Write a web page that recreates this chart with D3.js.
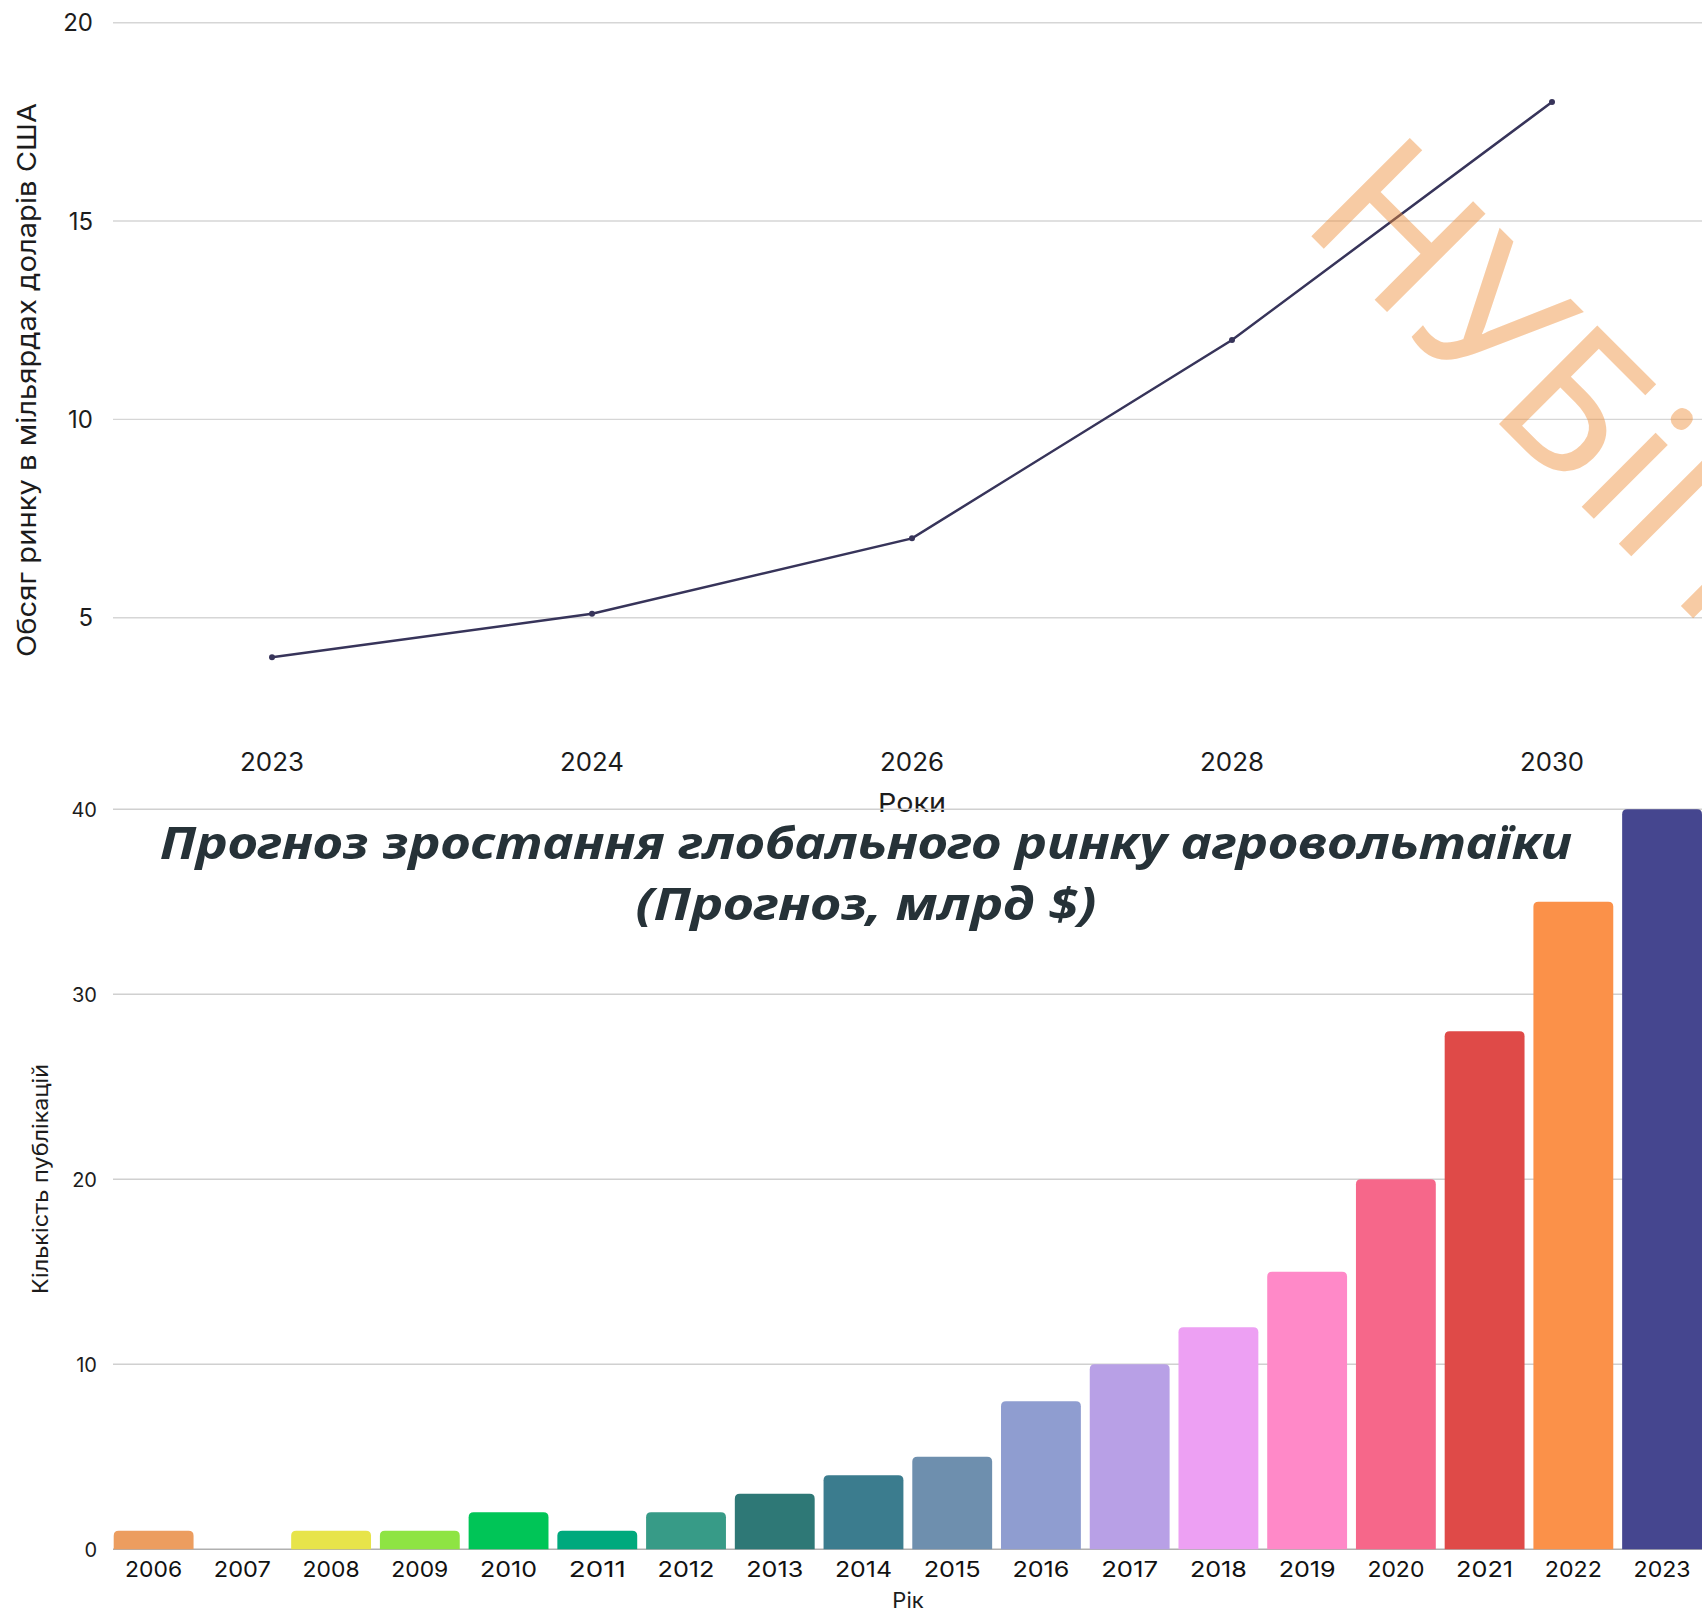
<!DOCTYPE html>
<html>
<head>
<meta charset="utf-8">
<script src="https://cdn.jsdelivr.net/npm/d3@7"></script>
<style>
  body { margin: 0; background: #ffffff; }
  svg { display: block; }
</style>
</head>
<body>
<div id="chart"></div>
<script>
// Page size
const width = 1702;
const height = 1612;

// Top chart: agrivoltaics market forecast (bn USD)
const forecastYears = ["2023", "2024", "2026", "2028", "2030"];
const forecastValues = [4, 5.1, 7, 12, 18];
const forecastTicks = [5, 10, 15, 20];

// Bottom chart: number of publications per year
const pubYears = ["2006", "2007", "2008", "2009", "2010", "2011", "2012", "2013", "2014",
                  "2015", "2016", "2017", "2018", "2019", "2020", "2021", "2022", "2023"];
const pubCounts = [1, 0, 1, 1, 2, 1, 2, 3, 4, 5, 8, 10, 12, 15, 20, 28, 35, 40];
const pubColors = ["#ec9d5f", "#d9d9d9", "#e7e44a", "#8ee443", "#00c557", "#00a97d",
                   "#379b87", "#2e7876", "#3b7c8e", "#6e8fae", "#8f9dd0", "#b8a0e6",
                   "#eda0f3", "#ff89c8", "#f6678a", "#df4a48", "#fb9149", "#45468f"];
const pubTicks = [0, 10, 20, 30, 40];

const svg = d3.select("#chart")
    .append("svg")
    .attr("width", width)
    .attr("height", height);

// ---------- top line chart ----------
const xTop = d3.scalePoint()
    .domain(forecastYears)
    .range([112, 1712])
    .padding(0.5);

const yTop = d3.scaleLinear()
    .domain([0, 20])
    .range([816, 22.7]);

const lineChart = svg.append("g")
    .style("font-family", "Inter, sans-serif")
    .style("fill", "#1c1c1c");

lineChart.selectAll(".gridTop")
    .data(forecastTicks)
    .enter()
    .append("line")
    .attr("x1", 113)
    .attr("x2", width)
    .attr("y1", d => yTop(d))
    .attr("y2", d => yTop(d))
    .attr("stroke", "#d6d6d6")
    .attr("stroke-width", 1.4);

lineChart.selectAll(".tickTop")
    .data(forecastTicks)
    .enter()
    .append("text")
    .attr("x", 93)
    .attr("y", d => yTop(d))
    .attr("dy", "0.36em")
    .attr("text-anchor", "end")
    .style("font-size", "24px")
    .text(d => d);

lineChart.selectAll(".xTickTop")
    .data(forecastYears)
    .enter()
    .append("text")
    .attr("x", d => xTop(d))
    .attr("y", 771)
    .attr("text-anchor", "middle")
    .style("font-size", "25px")
    .attr("textLength", 64)
    .attr("lengthAdjust", "spacingAndGlyphs")
    .text(d => d);

lineChart.append("text")
    .attr("x", 912)
    .attr("y", 812)
    .attr("text-anchor", "middle")
    .style("font-size", "26px")
    .attr("textLength", 68)
    .attr("lengthAdjust", "spacingAndGlyphs")
    .text("Роки");

lineChart.append("text")
    .attr("transform", "translate(36,380) rotate(-90)")
    .attr("text-anchor", "middle")
    .style("font-size", "26px")
    .attr("textLength", 554)
    .attr("lengthAdjust", "spacingAndGlyphs")
    .text("Обсяг ринку в мільярдах доларів США");

const line = d3.line()
    .x((d, i) => xTop(forecastYears[i]))
    .y(d => yTop(d));

lineChart.append("path")
    .datum(forecastValues)
    .attr("d", line)
    .attr("fill", "none")
    .attr("stroke", "#37345a")
    .attr("stroke-width", 2.5);

lineChart.selectAll(".dot")
    .data(forecastValues)
    .enter()
    .append("circle")
    .attr("cx", (d, i) => xTop(forecastYears[i]))
    .attr("cy", d => yTop(d))
    .attr("r", 3)
    .attr("fill", "#37345a");

// ---------- bottom bar chart ----------
const xBot = d3.scaleBand()
    .domain(pubYears)
    .range([113.7, 1702])
    .paddingInner(0.1)
    .paddingOuter(0);

const yBot = d3.scaleLinear()
    .domain([0, 40])
    .range([1549.3, 809.3]);

const barChart = svg.append("g")
    .style("font-family", "Inter, sans-serif")
    .style("fill", "#1c1c1c");

barChart.selectAll(".gridBot")
    .data(pubTicks.filter(d => d > 0))
    .enter()
    .append("line")
    .attr("x1", 113)
    .attr("x2", width)
    .attr("y1", d => yBot(d))
    .attr("y2", d => yBot(d))
    .attr("stroke", "#d0d0d0")
    .attr("stroke-width", 1.4);

barChart.append("line")
    .attr("x1", 113)
    .attr("x2", width)
    .attr("y1", yBot(0))
    .attr("y2", yBot(0))
    .attr("stroke", "#b0b0b0")
    .attr("stroke-width", 1.6);

barChart.selectAll(".tickBot")
    .data(pubTicks)
    .enter()
    .append("text")
    .attr("x", 97)
    .attr("y", d => yBot(d))
    .attr("dy", "0.36em")
    .attr("text-anchor", "end")
    .style("font-size", "20px")
    .text(d => d);

// bar with rounded top corners only
function roundedTop(x, y, w, h, r) {
    r = Math.min(r, h, w / 2);
    return `M${x},${y + h}V${y + r}Q${x},${y} ${x + r},${y}H${x + w - r}Q${x + w},${y} ${x + w},${y + r}V${y + h}Z`;
}

const barData = pubYears
    .map((y, i) => ({ year: y, value: pubCounts[i], color: pubColors[i] }))
    .filter(d => d.value > 0);

barChart.selectAll(".bar")
    .data(barData)
    .enter()
    .append("path")
    .attr("d", d => roundedTop(xBot(d.year), yBot(d.value), xBot.bandwidth(), yBot(0) - yBot(d.value), 5))
    .attr("fill", d => d.color);

barChart.selectAll(".xTickBot")
    .data(pubYears)
    .enter()
    .append("text")
    .attr("x", d => xBot(d) + xBot.bandwidth() / 2)
    .attr("y", 1577)
    .attr("text-anchor", "middle")
    .style("font-size", "22px")
    .style("fill", "#111")
    .attr("textLength", 57)
    .attr("lengthAdjust", "spacingAndGlyphs")
    .text(d => d);

barChart.append("text")
    .attr("x", 908)
    .attr("y", 1608)
    .attr("text-anchor", "middle")
    .style("font-size", "22px")
    .text("Рік");

barChart.append("text")
    .attr("transform", "translate(48,1179) rotate(-90)")
    .attr("text-anchor", "middle")
    .style("font-size", "21px")
    .attr("textLength", 230)
    .attr("lengthAdjust", "spacingAndGlyphs")
    .text("Кількість публікацій");

// title
const title = svg.append("g")
    .style("font-family", "'Noto Sans', sans-serif")
    .style("font-weight", "bold")
    .style("font-style", "italic")
    .style("font-size", "45px")
    .style("fill", "#263238");

title.append("text")
    .attr("x", 866)
    .attr("y", 859)
    .attr("text-anchor", "middle")
    .attr("textLength", 1412)
    .attr("lengthAdjust", "spacingAndGlyphs")
    .text("Прогноз зростання глобального ринку агровольтаїки");

title.append("text")
    .attr("x", 866)
    .attr("y", 920)
    .attr("text-anchor", "middle")
    .attr("textLength", 461)
    .attr("lengthAdjust", "spacingAndGlyphs")
    .text("(Прогноз, млрд $)");

// watermark
svg.append("text")
    .attr("transform", "translate(1298,223) rotate(45)")
    .style("font-family", "'Noto Sans', sans-serif")
    .style("font-size", "195px")
    .style("fill", "#ed8b36")
    .style("fill-opacity", 0.45)
    .text("НУБіП");
</script>
</body>
</html>
